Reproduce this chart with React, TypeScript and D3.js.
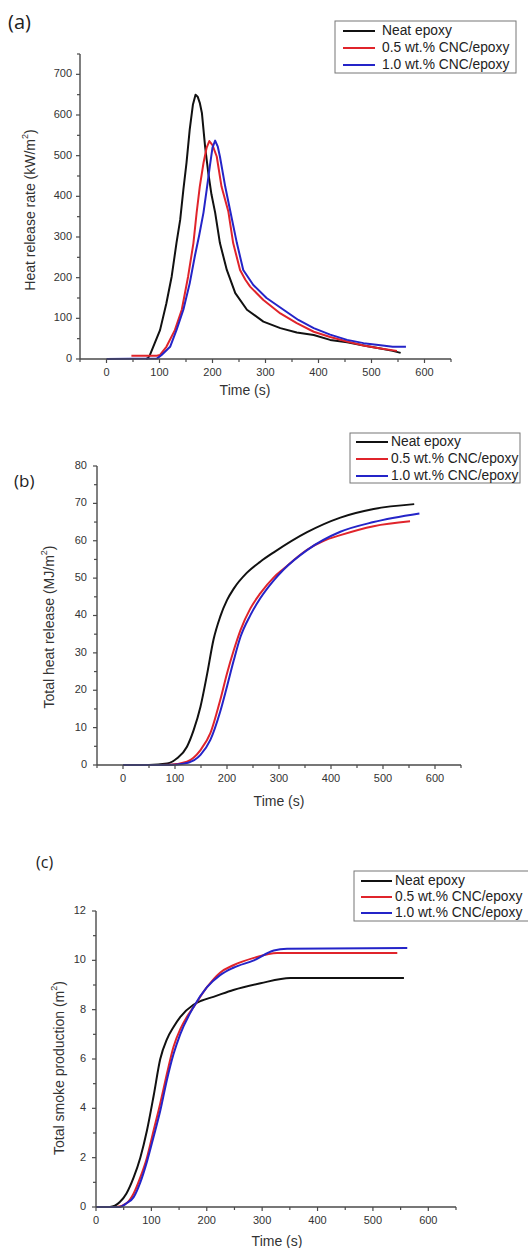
import React from 'react';
import * as d3 from 'd3';

type Pt = [number, number];

const seriesNames = ['Neat epoxy', '0.5 wt.% CNC/epoxy', '1.0 wt.% CNC/epoxy'];
const seriesColors = ['#111111', '#e0242b', '#2424c8'];

// (a) Heat release rate (kW/m2) vs time (s)
const hrrNeat: Pt[] = [
  [75, 0], [78, 2], [82, 10], [91, 39], [101, 71], [113, 137], [123, 203], [132, 285], [139, 342],
  [145, 416], [151, 483], [157, 564], [163, 625], [168, 650], [172, 645], [176, 630], [180, 605],
  [186, 523], [192, 458], [198, 405], [205, 360], [214, 285], [227, 219], [243, 162], [265, 121],
  [296, 92], [328, 76], [359, 65], [391, 59], [422, 47], [454, 41], [490, 32], [517, 26], [540, 20], [555, 15],
];
const hrrCnc05: Pt[] = [
  [47, 8], [75, 8], [95, 8], [101, 10], [113, 30], [129, 71], [142, 121], [154, 203], [164, 285],
  [170, 359], [176, 424], [183, 482], [189, 520], [194, 536], [200, 526], [208, 498], [217, 424],
  [230, 362], [239, 285], [252, 219], [262, 195], [271, 178], [296, 145], [328, 112], [359, 88],
  [391, 67], [422, 54], [454, 43], [485, 33], [517, 26], [548, 20],
];
const hrrCnc10: Pt[] = [
  [0, 0], [95, 1], [104, 10], [120, 30], [132, 71], [145, 121], [157, 186], [167, 255], [175, 305],
  [183, 360], [189, 416], [195, 474], [200, 520], [205, 537], [210, 522], [214, 498], [224, 424],
  [233, 367], [246, 285], [258, 219], [277, 182], [302, 150], [334, 121], [362, 96], [391, 76],
  [422, 60], [454, 47], [485, 39], [517, 34], [540, 30], [565, 30],
];

// (b) Total heat release (MJ/m2) vs time (s)
const thrNeat: Pt[] = [
  [0, 0], [50, 0], [85, 0.4], [104, 1.8], [123, 4.9], [136, 9.4], [149, 15.6], [162, 24.5],
  [174, 33.5], [187, 39.7], [200, 44.1], [213, 47.2], [238, 51.4], [264, 54.4], [290, 56.9],
  [354, 62.3], [418, 66.2], [482, 68.5], [560, 69.8],
];
const thrCnc05: Pt[] = [
  [0, 0], [50, 0], [90, 0.1], [123, 0.9], [149, 4], [168, 8.5], [187, 17.4], [200, 24.5],
  [213, 30.7], [226, 36.1], [245, 41.9], [264, 45.9], [290, 50.2], [309, 52.5], [354, 57.6],
  [386, 60], [418, 61.5], [482, 63.9], [552, 65.2],
];
const thrCnc10: Pt[] = [
  [0, 0], [50, 0], [100, 0.1], [125, 0.6], [149, 2.7], [168, 6.7], [187, 14.3], [200, 21],
  [213, 28], [226, 34.3], [245, 40.1], [264, 44.6], [290, 49.4], [309, 52.3], [354, 57.5],
  [418, 62.4], [482, 65], [570, 67.3],
];

// (c) Total smoke production (m2) vs time (s)
const tspNeat: Pt[] = [
  [0, 0], [25, 0], [43, 0.2], [55, 0.55], [68, 1.2], [80, 2.0], [92, 3.1], [104, 4.5], [116, 6.0],
  [128, 6.8], [140, 7.3], [152, 7.7], [176, 8.2], [190, 8.36], [212, 8.52], [248, 8.8], [297, 9.07],
  [351, 9.28], [556, 9.28],
];
const tspCnc05: Pt[] = [
  [0, 0], [37, 0], [55, 0.15], [68, 0.55], [80, 1.2], [92, 2.0], [104, 3.1], [116, 4.2], [128, 5.4],
  [140, 6.5], [152, 7.2], [164, 7.7], [176, 8.1], [200, 8.9], [224, 9.5], [248, 9.8], [285, 10.1],
  [327, 10.3], [544, 10.3],
];
const tspCnc10: Pt[] = [
  [0, 0], [43, 0], [55, 0.15], [68, 0.4], [80, 1.0], [92, 1.84], [104, 2.85], [116, 3.9], [128, 5.15],
  [140, 6.2], [152, 7.0], [176, 8.1], [200, 8.9], [224, 9.4], [248, 9.7], [285, 10.0], [321, 10.4],
  [345, 10.47], [562, 10.5],
];

const timeTicks = [0, 100, 200, 300, 400, 500, 600];
const hrrTicks = [0, 100, 200, 300, 400, 500, 600, 700];
const thrTicks = [0, 10, 20, 30, 40, 50, 60, 70, 80];
const tspTicks = [0, 2, 4, 6, 8, 10, 12];

const FONT = "'Liberation Sans', Arial, Helvetica, sans-serif";
const AXIS = '#4a4a4a';
const TXT = '#333333';

interface PanelProps {
  label: string;
  labelX: number;
  labelY: number;
  labelSize: number;
  xDomain: [number, number];
  xRange: [number, number];
  yDomain: [number, number];
  yRange: [number, number];
  xTicks: number[];
  xMinorStep: number;
  yTicks: number[];
  yMinorStep: number;
  yLabelGap: number;
  series: Pt[][];
  curve: d3.CurveFactory;
  yTitle: string;
  yTitleX: number;
  yTitleY: number;
  xTitleX: number;
  xTitleY: number;
  legend: { x: number; y: number; w: number; h: number; rows: number[]; lx1: number; lx2: number; tx: number };
}

function Panel(p: PanelProps) {
  const x = d3.scaleLinear().domain(p.xDomain).range(p.xRange);
  const y = d3.scaleLinear().domain(p.yDomain).range(p.yRange);
  const line = d3.line<Pt>().x(d => x(d[0])).y(d => y(d[1])).curve(p.curve);
  const x0 = p.xRange[0];
  const y0 = p.yRange[0];
  const xMinor = d3.range(p.xDomain[0], p.xDomain[1] + 0.001, p.xMinorStep).filter(v => !p.xTicks.includes(v));
  const yMinor = d3.range(p.yDomain[0], p.yDomain[1] + 0.001, p.yMinorStep).filter(v => !p.yTicks.includes(v));
  const L = p.legend;
  return (
    <g>
      <text x={p.labelX} y={p.labelY} fontFamily="'Open Sans', 'Noto Sans', sans-serif" fontSize={p.labelSize} fill="#222">{p.label}</text>
      {p.series.map((s, i) => (
        <path key={i} d={line(s) || ''} fill="none" stroke={seriesColors[i]} strokeWidth={2} strokeLinejoin="round" />
      ))}
      <line x1={x0} x2={p.xRange[1]} y1={y0} y2={y0} stroke={AXIS} strokeWidth={1.4} />
      <line x1={x0} x2={x0} y1={y0} y2={p.yRange[1]} stroke={AXIS} strokeWidth={1.4} />
      {p.xTicks.map(v => (
        <g key={'xt' + v}>
          <line x1={x(v)} x2={x(v)} y1={y0} y2={y0 + 4} stroke={AXIS} strokeWidth={1.2} />
          <text x={x(v)} y={y0 + 14} textAnchor="middle" dominantBaseline="middle" fontFamily={FONT} fontSize={11} fill={TXT}>{v}</text>
        </g>
      ))}
      {xMinor.map(v => (
        <line key={'xm' + v} x1={x(v)} x2={x(v)} y1={y0} y2={y0 + 3} stroke={AXIS} strokeWidth={1.2} />
      ))}
      {p.yTicks.map(v => (
        <g key={'yt' + v}>
          <line x1={x0 - 4} x2={x0} y1={y(v)} y2={y(v)} stroke={AXIS} strokeWidth={1.2} />
          <text x={x0 - p.yLabelGap} y={y(v)} textAnchor="end" dominantBaseline="middle" fontFamily={FONT} fontSize={11} fill={TXT}>{v}</text>
        </g>
      ))}
      {yMinor.map(v => (
        <line key={'ym' + v} x1={x0 - 3} x2={x0} y1={y(v)} y2={y(v)} stroke={AXIS} strokeWidth={1.2} />
      ))}
      <text x={p.xTitleX} y={p.xTitleY} textAnchor="middle" fontFamily={FONT} fontSize={14} fill={TXT}>Time (s)</text>
      <text transform={`translate(${p.yTitleX},${p.yTitleY}) rotate(-90)`} textAnchor="middle" dominantBaseline="middle" fontFamily={FONT} fontSize={14} fill={TXT}>
        {p.yTitle}<tspan dy={-5} fontSize={9}>2</tspan><tspan dy={5}>)</tspan>
      </text>
      <rect x={L.x} y={L.y} width={L.w} height={L.h} fill="white" stroke="#777" strokeWidth={1} />
      {seriesNames.map((n, i) => (
        <g key={'lg' + i}>
          <line x1={L.lx1} x2={L.lx2} y1={L.rows[i]} y2={L.rows[i]} stroke={seriesColors[i]} strokeWidth={2} />
          <text x={L.tx} y={L.rows[i]} dominantBaseline="middle" fontFamily={FONT} fontSize={13.8} fill="#222">{n}</text>
        </g>
      ))}
    </g>
  );
}

export default function App() {
  return (
    <svg width={528} height={1248} style={{ position: 'absolute', left: 0, top: 0, background: 'white' }}>
      <rect x={0} y={0} width={528} height={1248} fill="white" />
      <Panel
        label="(a)" labelX={8} labelY={29} labelSize={20}
        xDomain={[-50, 650]} xRange={[80, 451]}
        yDomain={[0, 750]} yRange={[359, 54]}
        xTicks={timeTicks} xMinorStep={50}
        yTicks={hrrTicks} yMinorStep={50} yLabelGap={8}
        series={[hrrNeat, hrrCnc05, hrrCnc10]} curve={d3.curveLinear}
        yTitle="Heat release rate (kW/m" yTitleX={31} yTitleY={210}
        xTitleX={245} xTitleY={395}
        legend={{ x: 335, y: 21, w: 181, h: 52, rows: [31, 48, 65], lx1: 343, lx2: 375, tx: 382 }}
      />
      <Panel
        label="(b)" labelX={14} labelY={487} labelSize={17}
        xDomain={[-50, 650]} xRange={[97, 461]}
        yDomain={[0, 80]} yRange={[765, 466]}
        xTicks={timeTicks} xMinorStep={50}
        yTicks={thrTicks} yMinorStep={5} yLabelGap={10}
        series={[thrNeat, thrCnc05, thrCnc10]} curve={d3.curveMonotoneX}
        yTitle="Total heat release (MJ/m" yTitleX={50} yTitleY={627}
        xTitleX={279} xTitleY={806}
        legend={{ x: 350, y: 433, w: 170, h: 50, rows: [442, 459, 476], lx1: 356, lx2: 388, tx: 391 }}
      />
      <Panel
        label="(c)" labelX={36} labelY={868} labelSize={16}
        xDomain={[0, 650]} xRange={[96, 456]}
        yDomain={[0, 12]} yRange={[1207, 911]}
        xTicks={timeTicks} xMinorStep={50}
        yTicks={tspTicks} yMinorStep={1} yLabelGap={10}
        series={[tspNeat, tspCnc05, tspCnc10]} curve={d3.curveMonotoneX}
        yTitle="Total smoke production (m" yTitleX={60} yTitleY={1068}
        xTitleX={277} xTitleY={1246}
        legend={{ x: 354, y: 871, w: 185, h: 50, rows: [881, 897, 913], lx1: 361, lx2: 392, tx: 395 }}
      />
    </svg>
  );
}
